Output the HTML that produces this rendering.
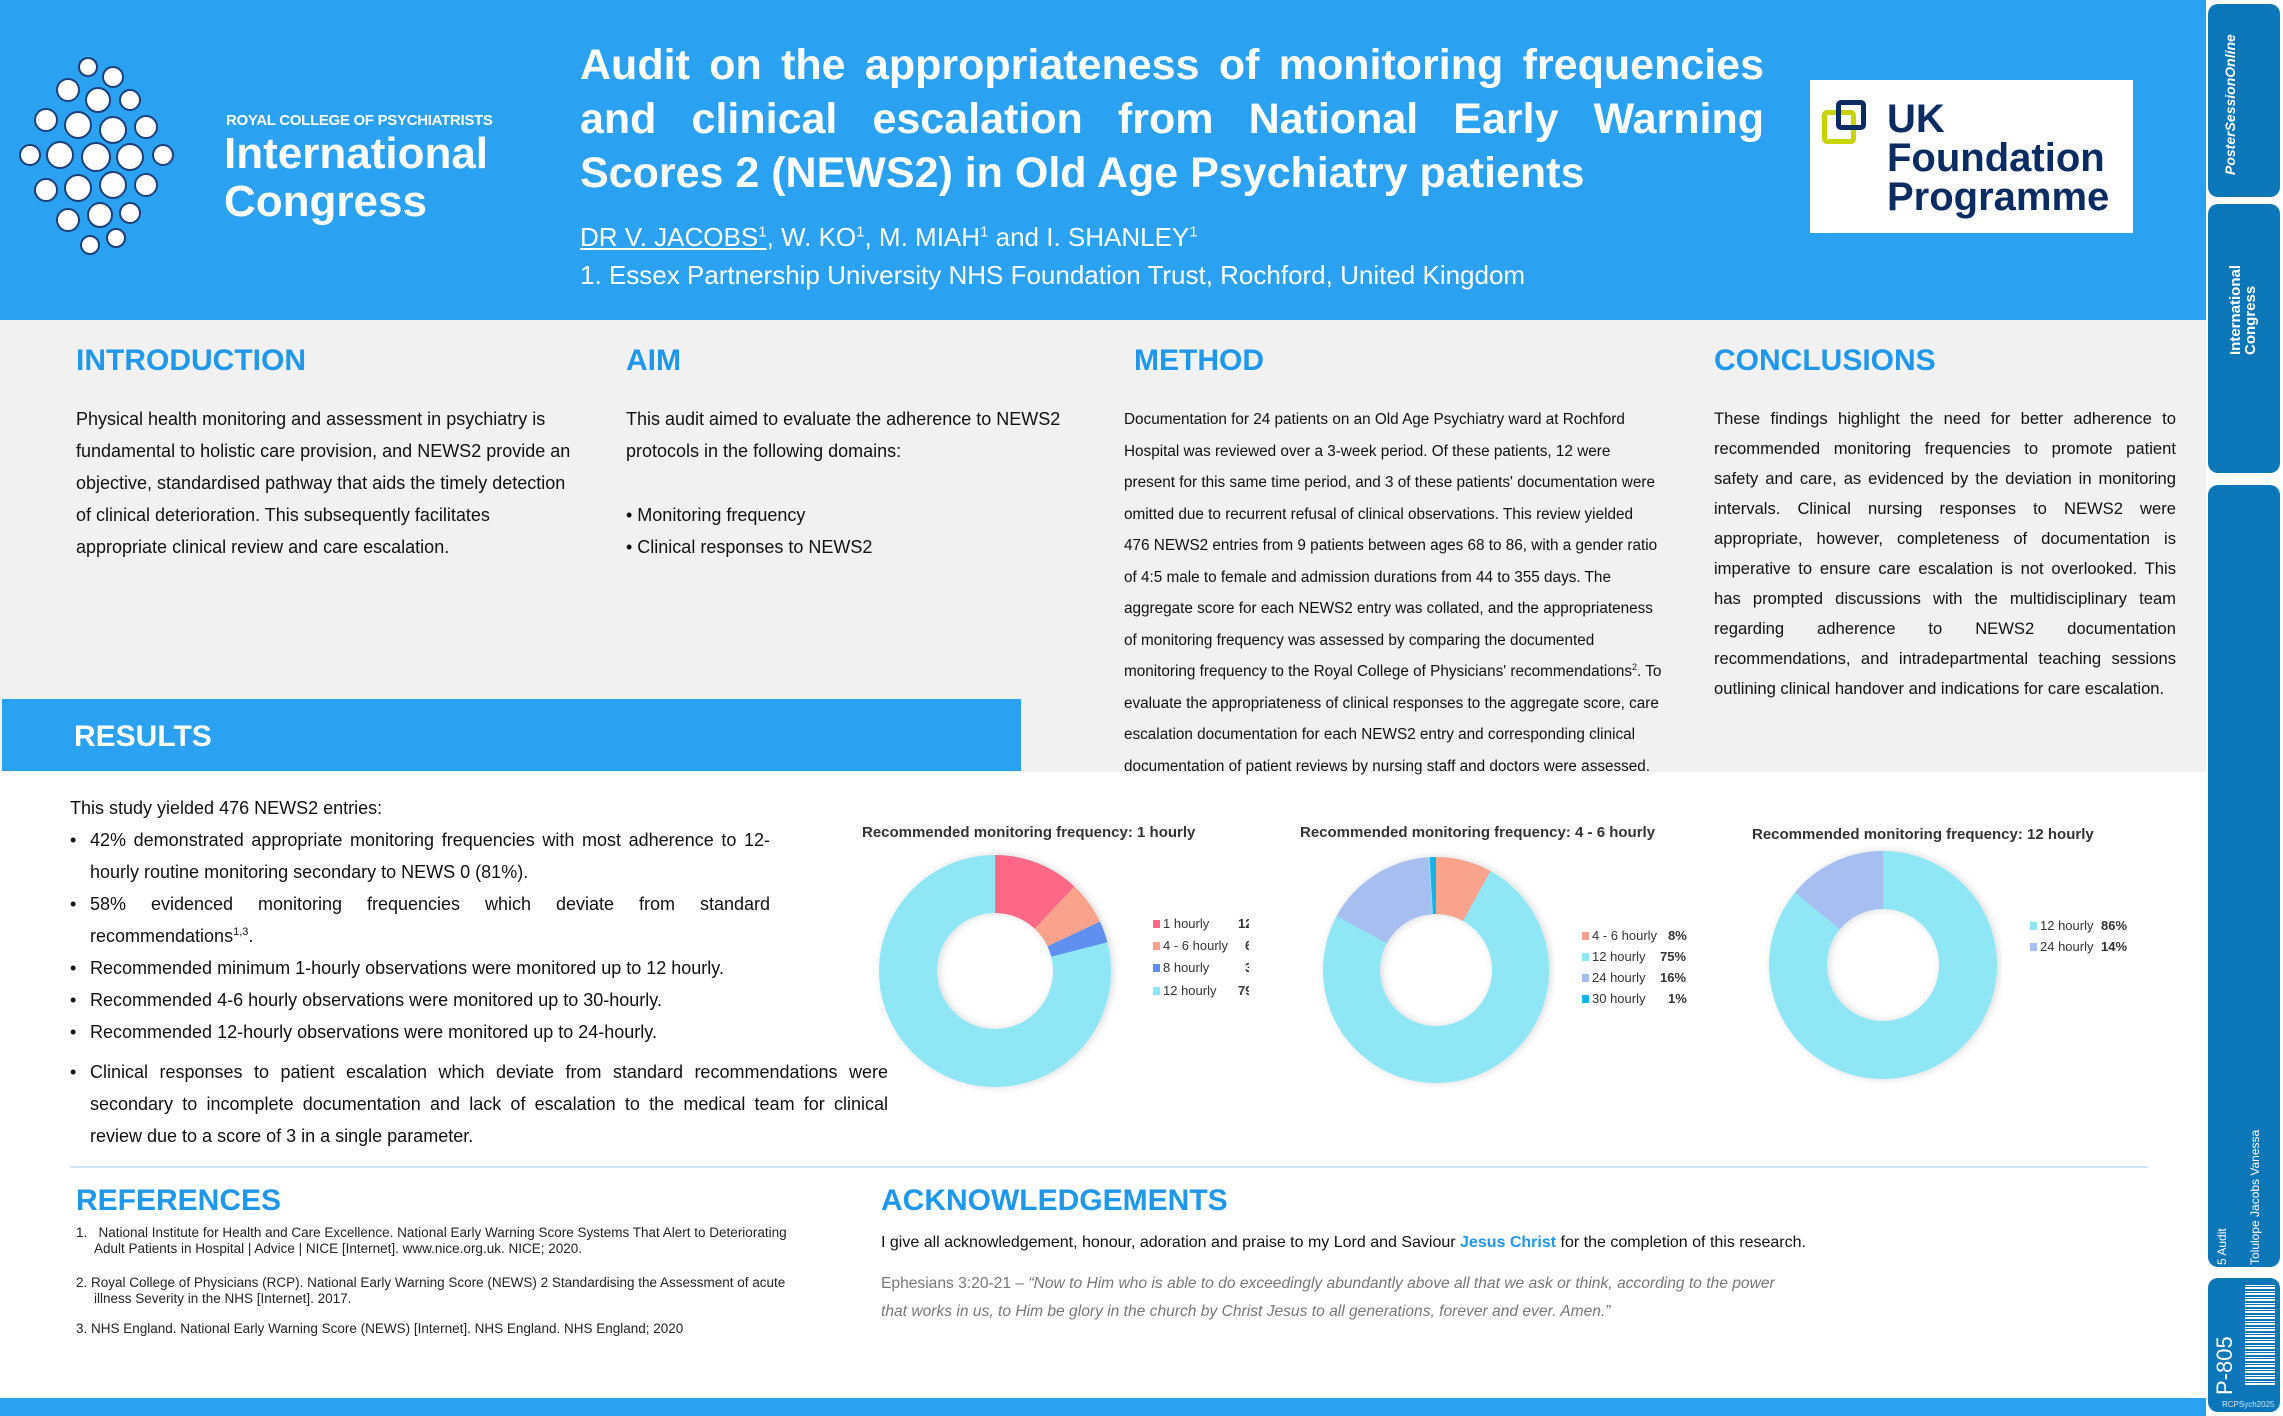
<!DOCTYPE html>
<html><head><meta charset="utf-8">
<style>
*{margin:0;padding:0;box-sizing:border-box}
body{width:2283px;height:1416px;position:relative;overflow:hidden;background:#fff;font-family:"Liberation Sans",Arial,sans-serif;color:#111}
.a{position:absolute}
.hd{color:#1f97ea;font-weight:bold;font-size:30px}
.p{font-size:18px;line-height:32px}
.side{position:absolute;left:2208px;width:72px;background:#0b76b8;border-radius:10px}
.lg{font-size:13px;color:#333}
.lg div{position:absolute;white-space:nowrap}
.sw{display:inline-block;width:7px;height:8px;margin-right:3px}
.b{position:relative;padding-left:20px}
.b span.d{position:absolute;left:0}
</style></head><body>
<div class="a" style="left:0;top:0;width:2206px;height:320px;background:#2aa1f1"></div>
<div class="a" style="left:0;top:320px;width:2206px;height:452px;background:#f1f1f1"></div>
<div class="a" style="left:2px;top:699px;width:1019px;height:72px;background:#2aa1f1"></div>
<div class="a" style="left:0;top:1398px;width:2206px;height:18px;background:#2aa1f1"></div>
<div class="a" style="left:70px;top:1166px;width:2078px;height:2px;background:#cfe6f8"></div>

<svg class="a" style="left:18px;top:55px" width="182" height="205" viewBox="0 0 182 205">
<g fill="#fff" stroke="#1c3f7a" stroke-width="2">
<circle cx="70" cy="12" r="9"/><circle cx="95" cy="22" r="10"/><circle cx="50" cy="35" r="11"/><circle cx="80" cy="45" r="12"/><circle cx="112" cy="45" r="10"/>
<circle cx="28" cy="65" r="11"/><circle cx="60" cy="70" r="13"/><circle cx="95" cy="75" r="13"/><circle cx="128" cy="72" r="11"/>
<circle cx="12" cy="100" r="10"/><circle cx="42" cy="100" r="13"/><circle cx="78" cy="102" r="14"/><circle cx="112" cy="102" r="13"/><circle cx="145" cy="100" r="10"/>
<circle cx="28" cy="135" r="11"/><circle cx="60" cy="133" r="13"/><circle cx="95" cy="130" r="13"/><circle cx="128" cy="130" r="11"/>
<circle cx="50" cy="165" r="11"/><circle cx="82" cy="160" r="12"/><circle cx="112" cy="158" r="10"/><circle cx="72" cy="190" r="9"/><circle cx="98" cy="183" r="9"/>
</g></svg>
<div class="a" style="left:226px;top:112px;color:#fff;font-size:15px;font-weight:bold;letter-spacing:-0.3px">ROYAL COLLEGE OF PSYCHIATRISTS</div>
<div class="a" style="left:224px;top:130px;color:#fff;font-size:44px;font-weight:bold;line-height:48px">International<br>Congress</div>

<div class="a" style="left:580px;top:38px;width:1184px;color:#fff;font-size:43px;font-weight:bold;line-height:54px;text-align:justify;text-align-last:left">Audit on the appropriateness of monitoring frequencies and clinical escalation from National Early Warning Scores 2 (NEWS2) in Old Age Psychiatry patients</div>
<div class="a" style="left:580px;top:222px;color:#fff;font-size:26px"><span style="text-decoration:underline">DR V. JACOBS<sup style="font-size:15px">1</sup></span>, W. KO<sup style="font-size:15px">1</sup>, M. MIAH<sup style="font-size:15px">1</sup> and I. SHANLEY<sup style="font-size:15px">1</sup></div>
<div class="a" style="left:580px;top:260px;color:#fff;font-size:26px">1. Essex Partnership University NHS Foundation Trust, Rochford, United Kingdom</div>

<div class="a" style="left:1810px;top:80px;width:323px;height:153px;background:#fff"></div>
<div class="a" style="left:1822px;top:110px;width:34px;height:34px;border:5px solid #c8d400;border-radius:5px"></div>
<div class="a" style="left:1836px;top:100px;width:30px;height:30px;border:5px solid #0b2b63;border-radius:5px"></div>
<div class="a" style="left:1887px;top:100px;color:#0b2b63;font-size:40px;font-weight:bold;line-height:39px">UK<br>Foundation<br>Programme</div>

<div class="side" style="top:4px;height:193px"></div>
<div class="side" style="top:204px;height:269px"></div>
<div class="side" style="top:485px;height:782px"></div>
<div class="side" style="top:1278px;height:134px"></div>
<div class="a" style="left:2222px;top:175px;color:#fff;font-size:14px;font-weight:bold;font-style:italic;transform:rotate(-90deg);transform-origin:0 0;white-space:nowrap">PosterSessionOnline</div>
<div class="a" style="left:2228px;top:355px;color:#fff;font-size:15px;font-weight:bold;line-height:15px;transform:rotate(-90deg);transform-origin:0 0;white-space:nowrap">International<br>Congress</div>
<div class="a" style="left:2215px;top:1265px;color:#fff;font-size:12px;transform:rotate(-90deg);transform-origin:0 0;white-space:nowrap">5 Audit</div>
<div class="a" style="left:2248px;top:1265px;color:#fff;font-size:12px;transform:rotate(-90deg);transform-origin:0 0;white-space:nowrap">Tolulope Jacobs Vanessa</div>
<div class="a" style="left:2212px;top:1395px;color:#fff;font-size:22px;transform:rotate(-90deg);transform-origin:0 0;white-space:nowrap">P-805</div>
<div class="a" style="left:2245px;top:1285px;width:30px;height:100px;background:repeating-linear-gradient(0deg,#fff 0 2px,#0b76b8 2px 3px,#fff 3px 4px,#0b76b8 4px 6px)"></div>
<div class="a" style="left:2222px;top:1400px;color:#cfe6f8;font-size:8px">RCPSych2025</div>

<div class="a hd" style="left:76px;top:344px">INTRODUCTION</div>
<div class="a p" style="left:76px;top:403px;width:500px">Physical health monitoring and assessment in psychiatry is fundamental to holistic care provision, and NEWS2 provide an objective, standardised pathway that aids the timely detection of clinical deterioration. This subsequently facilitates appropriate clinical review and care escalation.</div>
<div class="a hd" style="left:626px;top:344px">AIM</div>
<div class="a p" style="left:626px;top:403px;width:450px">This audit aimed to evaluate the adherence to NEWS2 protocols in the following domains:<br><br>• Monitoring frequency<br>• Clinical responses to NEWS2</div>
<div class="a hd" style="left:1134px;top:344px">METHOD</div>
<div class="a" style="left:1124px;top:404px;white-space:nowrap;font-size:15.3px;line-height:31.5px">Documentation for 24 patients on an Old Age Psychiatry ward at Rochford<br>Hospital was reviewed over a 3-week period. Of these patients, 12 were<br>present for this same time period, and 3 of these patients' documentation were<br>omitted due to recurrent refusal of clinical observations. This review yielded<br>476 NEWS2 entries from 9 patients between ages 68 to 86, with a gender ratio<br>of 4:5 male to female and admission durations from 44 to 355 days. The<br>aggregate score for each NEWS2 entry was collated, and the appropriateness<br>of monitoring frequency was assessed by comparing the documented<br>monitoring frequency to the Royal College of Physicians' recommendations<sup style="font-size:9px;line-height:0">2</sup>. To<br>evaluate the appropriateness of clinical responses to the aggregate score, care<br>escalation documentation for each NEWS2 entry and corresponding clinical<br>documentation of patient reviews by nursing staff and doctors were assessed.</div>
<div class="a hd" style="left:1714px;top:344px">CONCLUSIONS</div>
<div class="a" style="left:1714px;top:404px;width:462px;font-size:16.6px;line-height:30px;text-align:justify">These findings highlight the need for better adherence to recommended monitoring frequencies to promote patient safety and care, as evidenced by the deviation in monitoring intervals. Clinical nursing responses to NEWS2 were appropriate, however, completeness of documentation is imperative to ensure care escalation is not overlooked. This has prompted discussions with the multidisciplinary team regarding adherence to NEWS2 documentation recommendations, and intradepartmental teaching sessions outlining clinical handover and indications for care escalation.</div>

<div class="a" style="left:74px;top:720px;color:#fff;font-size:30px;font-weight:bold">RESULTS</div>

<div class="a" style="left:70px;top:792px;font-size:18px;line-height:32px;width:820px">
<div>This study yielded 476 NEWS2 entries:</div>
<div class="b" style="width:700px;text-align:justify"><span class="d">•</span>42% demonstrated appropriate monitoring frequencies with most adherence to 12-hourly routine monitoring secondary to NEWS 0 (81%).</div>
<div class="b" style="width:700px;text-align:justify;text-align-last:justify;white-space:nowrap"><span class="d">•</span>58% evidenced monitoring frequencies which deviate from standard</div>
<div class="b">recommendations<sup style="font-size:11px;line-height:0">1,3</sup>.</div>
<div class="b"><span class="d">•</span>Recommended minimum 1-hourly observations were monitored up to 12 hourly.</div>
<div class="b"><span class="d">•</span>Recommended 4-6 hourly observations were monitored up to 30-hourly.</div>
<div class="b"><span class="d">•</span>Recommended 12-hourly observations were monitored up to 24-hourly.</div>
<div class="b" style="margin-top:8px;text-align:justify;width:818px"><span class="d">•</span>Clinical responses to patient escalation which deviate from standard recommendations were secondary to incomplete documentation and lack of escalation to the medical team for clinical review due to a score of 3 in a single parameter.</div>
</div>

<div class="a" style="left:862px;top:824px;font-size:15px;font-weight:bold;color:#333">Recommended monitoring frequency: 1 hourly</div>
<div class="a" style="left:1300px;top:824px;font-size:15px;font-weight:bold;color:#333">Recommended monitoring frequency: 4 - 6 hourly</div>
<div class="a" style="left:1752px;top:826px;font-size:15px;font-weight:bold;color:#333">Recommended monitoring frequency: 12 hourly</div>

<svg class="a" style="left:0;top:0" width="2283" height="1416">
<defs><filter id="sh" x="-20%" y="-20%" width="140%" height="140%"><feDropShadow dx="0" dy="2" stdDeviation="4" flood-color="#000" flood-opacity="0.15"/></filter></defs>
<g transform="translate(995,971) rotate(-90)" fill="none" stroke-width="58" filter="url(#sh)">
<circle r="87" stroke="#8fe7f6"/>
<circle r="87" stroke="#ff6787" stroke-dasharray="65.6 1000"/>
<circle r="87" stroke="#f9a38c" stroke-dasharray="32.8 1000" stroke-dashoffset="-65.6"/>
<circle r="87" stroke="#5e90ef" stroke-dasharray="16.4 1000" stroke-dashoffset="-98.4"/>
</g>
<g transform="translate(1436,970) rotate(-90)" fill="none" stroke-width="57" filter="url(#sh)">
<circle r="84.5" stroke="#8fe7f6"/>
<circle r="84.5" stroke="#f9a38c" stroke-dasharray="42.5 1000"/>
<circle r="84.5" stroke="#a7bff0" stroke-dasharray="85 1000" stroke-dashoffset="-440"/>
<circle r="84.5" stroke="#17b4e8" stroke-dasharray="5 1000" stroke-dashoffset="-525.9"/>
</g>
<g transform="translate(1883,965) rotate(-90)" fill="none" stroke-width="58" filter="url(#sh)">
<circle r="85" stroke="#8fe7f6"/>
<circle r="85" stroke="#a7bff0" stroke-dasharray="75 1000" stroke-dashoffset="-459"/>
</g>
</svg>

<div class="a lg" style="left:0;top:0">
<div style="left:1153px;top:916px"><span class="sw" style="background:#ff6787"></span>1 hourly</div>
<div style="left:1153px;top:938px"><span class="sw" style="background:#f9a38c"></span>4 - 6 hourly</div>
<div style="left:1153px;top:960px"><span class="sw" style="background:#5e90ef"></span>8 hourly</div>
<div style="left:1153px;top:983px"><span class="sw" style="background:#8fe7f6"></span>12 hourly</div>
<div style="left:1238px;top:916px;width:11px;overflow:hidden;font-weight:bold">12%</div>
<div style="left:1245px;top:938px;width:4px;overflow:hidden;font-weight:bold">6%</div>
<div style="left:1245px;top:960px;width:4px;overflow:hidden;font-weight:bold">3%</div>
<div style="left:1238px;top:983px;width:11px;overflow:hidden;font-weight:bold">79%</div>

<div style="left:1582px;top:928px"><span class="sw" style="background:#f9a38c"></span>4 - 6 hourly</div>
<div style="left:1582px;top:949px"><span class="sw" style="background:#8fe7f6"></span>12 hourly</div>
<div style="left:1582px;top:970px"><span class="sw" style="background:#a7bff0"></span>24 hourly</div>
<div style="left:1582px;top:991px"><span class="sw" style="background:#17b4e8"></span>30 hourly</div>
<div style="left:1668px;top:928px;font-weight:bold">8%</div>
<div style="left:1660px;top:949px;font-weight:bold">75%</div>
<div style="left:1660px;top:970px;font-weight:bold">16%</div>
<div style="left:1668px;top:991px;font-weight:bold">1%</div>

<div style="left:2030px;top:918px"><span class="sw" style="background:#8fe7f6"></span>12 hourly</div>
<div style="left:2030px;top:939px"><span class="sw" style="background:#a7bff0"></span>24 hourly</div>
<div style="left:2101px;top:918px;font-weight:bold">86%</div>
<div style="left:2101px;top:939px;font-weight:bold">14%</div>
</div>

<div class="a hd" style="left:76px;top:1184px">REFERENCES</div>
<div class="a" style="left:76px;top:1225px;width:715px;font-size:13.5px;line-height:16px;color:#222">
<div style="padding-left:18px;text-indent:-18px">1.&nbsp;&nbsp; National Institute for Health and Care Excellence. National Early Warning Score Systems That Alert to Deteriorating Adult Patients in Hospital | Advice | NICE [Internet]. www.nice.org.uk. NICE; 2020.</div>
<div style="padding-left:18px;text-indent:-18px;margin-top:18px">2. Royal College of Physicians (RCP). National Early Warning Score (NEWS) 2 Standardising the Assessment of acute illness Severity in the NHS [Internet]. 2017.</div>
<div style="margin-top:14px">3. NHS England. National Early Warning Score (NEWS) [Internet]. NHS England. NHS England; 2020</div>
</div>
<div class="a hd" style="left:881px;top:1184px">ACKNOWLEDGEMENTS</div>
<div class="a" style="left:881px;top:1234px;font-size:16px">I give all acknowledgement, honour, adoration and praise to my Lord and Saviour <b style="color:#1f97ea">Jesus Christ</b> for the completion of this research.</div>
<div class="a" style="left:881px;top:1270px;width:920px;font-size:15.6px;line-height:28px;color:#777">Ephesians 3:20-21 – <i>“Now to Him who is able to do exceedingly abundantly above all that we ask or think, according to the power that works in us, to Him be glory in the church by Christ Jesus to all generations, forever and ever. Amen.”</i></div>
</body></html>
